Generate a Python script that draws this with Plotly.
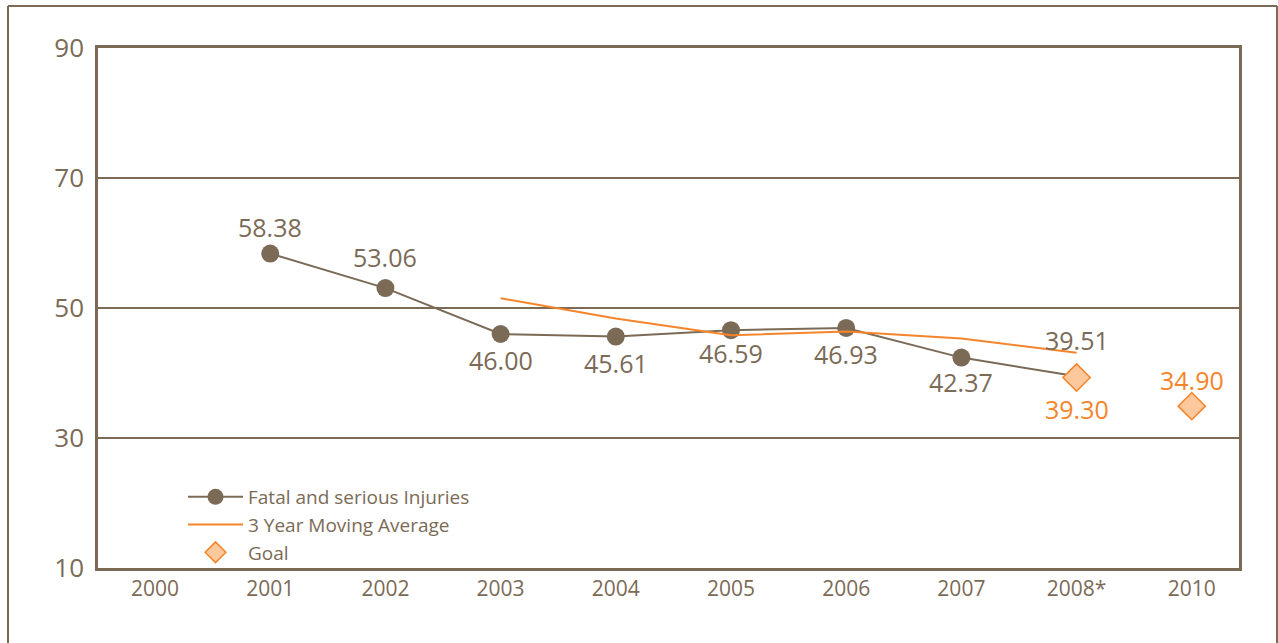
import plotly.graph_objects as go

# Categories and values
years = ["2000", "2001", "2002", "2003", "2004", "2005", "2006", "2007", "2008*", "2010"]

injury_years = ["2001", "2002", "2003", "2004", "2005", "2006", "2007", "2008*"]
injury_values = [58.38, 53.06, 46.00, 45.61, 46.59, 46.93, 42.37, 39.51]
# pixel offset of each value label from its point (negative = above)
injury_label_shift = [-27, -31, 26, 26, 23, 26, 24, -36]

avg_years = ["2003", "2004", "2005", "2006", "2007", "2008*"]
avg_values = [51.5, 48.4, 45.8, 46.4, 45.3, 43.1]

goal_years = ["2008*", "2010"]
goal_values = [39.30, 34.90]
goal_label_shift = [31, -26]

y_ticks = [10, 30, 50, 70, 90]

BROWN = "#7b6a56"
ORANGE = "#f5842a"
PEACH = "#fcc89c"
FONT = "Open Sans"

fig = go.Figure()

fig.add_trace(go.Scatter(
    x=injury_years, y=injury_values, mode="lines+markers",
    name="Fatal and serious Injuries",
    line=dict(color=BROWN, width=2),
    marker=dict(color=BROWN, size=18),
))

fig.add_trace(go.Scatter(
    x=avg_years, y=avg_values, mode="lines",
    name="3 Year Moving Average",
    line=dict(color=ORANGE, width=2),
))

fig.add_trace(go.Scatter(
    x=goal_years, y=goal_values, mode="markers",
    name="Goal",
    marker=dict(symbol="diamond", color=PEACH, size=21,
                line=dict(color=ORANGE, width=1.5)),
))

# Value labels; category positions are given by index on the category axis
annotations = []
for x, v, s in zip(injury_years, injury_values, injury_label_shift):
    annotations.append(dict(x=years.index(x), y=v, text=f"{v:.2f}", showarrow=False,
                            yshift=-s, font=dict(family=FONT, size=25, color=BROWN)))
for x, v, s in zip(goal_years, goal_values, goal_label_shift):
    annotations.append(dict(x=years.index(x), y=v, text=f"{v:.2f}", showarrow=False,
                            yshift=-s, font=dict(family=FONT, size=25, color=ORANGE)))

# Outer frame (left, top, right edges)
L, R, T, B = 98, 39, 48, 75
W, H = 1278 - L - R, 643 - T - B
def px(x):
    return (x - L) / W
def py(y):
    return (643 - B - y) / H

frame = dict(type="line", xref="paper", yref="paper",
             line=dict(color=BROWN, width=2), layer="below")
shapes = [
    dict(frame, x0=px(8), x1=px(8), y0=py(6), y1=py(650)),
    dict(frame, x0=px(8), x1=px(1277), y0=py(6), y1=py(6)),
    dict(frame, x0=px(1277), x1=px(1277), y0=py(6), y1=py(650)),
]

fig.update_layout(
    width=1278, height=643,
    margin=dict(l=L, r=R, t=T, b=B),
    paper_bgcolor="white", plot_bgcolor="white",
    font=dict(family=FONT, color=BROWN),
    shapes=shapes,
    annotations=annotations,
    showlegend=True,
    legend=dict(
        x=px(183), y=py(478), xanchor="left", yanchor="top",
        bgcolor="rgba(0,0,0,0)",
        font=dict(family=FONT, size=19, color=BROWN),
        traceorder="normal", itemwidth=55, tracegroupgap=0,
    ),
    xaxis=dict(
        type="category", categoryorder="array", categoryarray=years,
        range=[-0.495, 9.41],
        showgrid=False, showline=True, linecolor=BROWN, linewidth=2.5,
        mirror=True, ticks="", tickfont=dict(family=FONT, size=21, color=BROWN),
    ),
    yaxis=dict(
        range=[10, 90], tickvals=y_ticks,
        showgrid=True, gridcolor=BROWN, gridwidth=2,
        showline=True, linecolor=BROWN, linewidth=2.5, mirror=True,
        zeroline=False, ticks="", ticklabelstandoff=6,
        tickfont=dict(family=FONT, size=26, color=BROWN),
    ),
)

fig.write_html("out.html")
